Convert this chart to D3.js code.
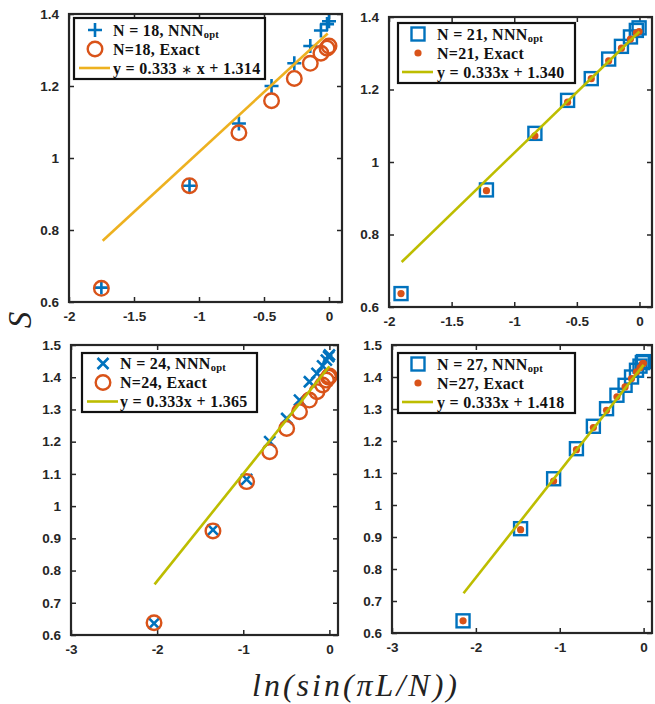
<!DOCTYPE html>
<html>
<head>
  <meta charset="utf-8">
  <!-- Import D3.js -->
  <script type="text/javascript" src="https://d3js.org/d3.v7.min.js"></script>
</head>
<body>
<style type="text/css">
  html,
  body {
    margin: 0px;
    background: #fff;
    overflow: hidden;
  }

  .tick text {
    font-family: "Liberation Sans", Arial, sans-serif;
    font-weight: bold;
    font-size: 13.5px;
    fill: #262626;
  }

  .tick line {
    stroke: #262626;
    stroke-width: 1.5;
  }

  .legend-text {
    font-family: "Liberation Serif", "Times New Roman", serif;
    font-weight: bold;
    font-size: 16px;
    letter-spacing: 0.3px;
    fill: #111;
  }
</style>

<script>
"use strict";

// ln(sin(pi L / N)) positions
const X_18 = [-1.751, -1.073, -0.693, -0.442, -0.267, -0.144, -0.062, -0.015, 0];
const X_21 = [-1.904, -1.222, -0.835, -0.574, -0.385, -0.246, -0.144, -0.072, -0.025, -0.003];
const X_24 = [-2.036, -1.352, -0.961, -0.693, -0.496, -0.347, -0.232, -0.144, -0.079, -0.035, -0.009, 0];
const X_27 = [-2.153, -1.467, -1.073, -0.801, -0.599, -0.442, -0.318, -0.221, -0.144, -0.085, -0.043, -0.015, -0.002];

// S values, NNN_opt and exact
const NNN_18 = [0.640, 0.923, 1.096, 1.200, 1.263, 1.311, 1.354, 1.372, 1.380];
const EXACT_18 = [0.638, 0.923, 1.070, 1.159, 1.221, 1.263, 1.291, 1.305, 1.311];
const NNN_21 = [0.637, 0.923, 1.079, 1.170, 1.230, 1.284, 1.319, 1.345, 1.363, 1.370];
const EXACT_21 = [0.637, 0.921, 1.072, 1.165, 1.230, 1.279, 1.314, 1.339, 1.356, 1.360];
const NNN_24 = [0.636, 0.926, 1.083, 1.200, 1.272, 1.329, 1.386, 1.412, 1.435, 1.453, 1.464, 1.469];
const EXACT_24 = [0.638, 0.923, 1.076, 1.169, 1.241, 1.293, 1.329, 1.355, 1.376, 1.391, 1.400, 1.404];
const NNN_27 = [0.638, 0.926, 1.082, 1.176, 1.246, 1.301, 1.343, 1.374, 1.400, 1.421, 1.434, 1.445, 1.448];
const EXACT_27 = [0.638, 0.923, 1.075, 1.173, 1.242, 1.296, 1.338, 1.369, 1.395, 1.416, 1.429, 1.441, 1.443];

// fitted line end points [x0, x1], [y0, y1]
const FIT_X_18 = [-1.741, -0.01];
const FIT_Y_18 = [0.770, 1.346];
const FIT_X_21 = [-1.899, 0];
const FIT_Y_21 = [0.724, 1.360];
const FIT_X_24 = [-2.03, 0];
const FIT_Y_24 = [0.757, 1.434];
const FIT_X_27 = [-2.147, 0];
const FIT_Y_27 = [0.724, 1.438];

// tick labels
const X_TICKS_TOP = [-2, -1.5, -1, -0.5, 0];
const Y_TICKS_TOP = [0.6, 0.8, 1, 1.2, 1.4];
const X_TICKS_BOTTOM = [-3, -2, -1, 0];
const Y_TICKS_BOTTOM = [0.6, 0.7, 0.8, 0.9, 1, 1.1, 1.2, 1.3, 1.4, 1.5];

// legend labels: [main, subscript] or [before, operator, after]
const LABELS_18 = [["N = 18, NNN", "opt"], ["N=18, Exact"], ["y = 0.333 ", "\u2217", " x + 1.314"]];
const LABELS_21 = [["N = 21, NNN", "opt"], ["N=21, Exact"], ["y = 0.333x + 1.340"]];
const LABELS_24 = [["N = 24, NNN", "opt"], ["N=24, Exact"], ["y = 0.333x + 1.365"]];
const LABELS_27 = [["N = 27, NNN", "opt"], ["N=27, Exact"], ["y = 0.333x + 1.418"]];

document.addEventListener("DOMContentLoaded", function() {
  const WIDTH = 655;
  const HEIGHT = 704;
  const BLUE = "#0072BD";
  const ORANGE = "#D95319";
  const AXIS_COLOR = "#262626";

  // Panel layout (pixel boxes) and styles
  const PANELS = [
    { left: 69, right: 342, top: 14, bottom: 302, xDomain: [-2, 0.1], yDomain: [0.6, 1.4],
      xTicks: X_TICKS_TOP, yTicks: Y_TICKS_TOP, x: X_18, nnn: NNN_18, exact: EXACT_18,
      fitX: FIT_X_18, fitY: FIT_Y_18, labels: LABELS_18, nnnMark: "plus", exactMark: "circle",
      lineColor: "#EDB120", legend: { x: 74, y: 18, w: 191, h: 61, rows: [30, 49, 68], mx: 95, tx: 113 } },
    { left: 389, right: 652, top: 17, bottom: 307, xDomain: [-2, 0.1], yDomain: [0.6, 1.4],
      xTicks: X_TICKS_TOP, yTicks: Y_TICKS_TOP, x: X_21, nnn: NNN_21, exact: EXACT_21,
      fitX: FIT_X_21, fitY: FIT_Y_21, labels: LABELS_21, nnnMark: "square", exactMark: "dot",
      lineColor: "#BDBD00", legend: { x: 398, y: 23, w: 177, h: 60, rows: [34, 53, 72], mx: 418, tx: 437 } },
    { left: 71, right: 338, top: 345, bottom: 635, xDomain: [-3, 0.1], yDomain: [0.6, 1.5],
      xTicks: X_TICKS_BOTTOM, yTicks: Y_TICKS_BOTTOM, x: X_24, nnn: NNN_24, exact: EXACT_24,
      fitX: FIT_X_24, fitY: FIT_Y_24, labels: LABELS_24, nnnMark: "cross", exactMark: "circle",
      lineColor: "#BDBD00", legend: { x: 82, y: 353, w: 175, h: 59, rows: [363.5, 382.5, 401.5], mx: 103, tx: 120 } },
    { left: 392, right: 652, top: 345, bottom: 633, xDomain: [-3, 0.1], yDomain: [0.6, 1.5],
      xTicks: X_TICKS_BOTTOM, yTicks: Y_TICKS_BOTTOM, x: X_27, nnn: NNN_27, exact: EXACT_27,
      fitX: FIT_X_27, fitY: FIT_Y_27, labels: LABELS_27, nnnMark: "square", exactMark: "dot",
      lineColor: "#BDBD00", legend: { x: 398, y: 353, w: 177, h: 60, rows: [364, 383, 402], mx: 418, tx: 437 } }
  ];

  const fmt = function(d) { return String(+d.toFixed(2)); };

  const SVG = d3.select("body")
    .append("svg")
    .attr("width", WIDTH)
    .attr("height", HEIGHT);

  // draw one marker of a given kind into selection g at (cx, cy)
  function drawMarker(g, kind, cx, cy) {
    if (kind === "plus") {
      g.append("path")
        .attr("d", "M" + (cx - 7) + "," + cy + "H" + (cx + 7) + "M" + cx + "," + (cy - 7) + "V" + (cy + 7))
        .attr("stroke", BLUE).attr("stroke-width", 2.6).attr("fill", "none");
    } else if (kind === "cross") {
      g.append("path")
        .attr("d", "M" + (cx - 5.5) + "," + (cy - 5.5) + "L" + (cx + 5.5) + "," + (cy + 5.5) +
          "M" + (cx - 5.5) + "," + (cy + 5.5) + "L" + (cx + 5.5) + "," + (cy - 5.5))
        .attr("stroke", BLUE).attr("stroke-width", 2.6).attr("fill", "none");
    } else if (kind === "square") {
      g.append("rect")
        .attr("x", cx - 6.5).attr("y", cy - 6.5).attr("width", 13).attr("height", 13)
        .attr("stroke", BLUE).attr("stroke-width", 2.4).attr("fill", "none");
    } else if (kind === "circle") {
      g.append("circle")
        .attr("cx", cx).attr("cy", cy).attr("r", 7.3)
        .attr("stroke", ORANGE).attr("stroke-width", 2.4).attr("fill", "none");
    } else if (kind === "dot") {
      g.append("circle")
        .attr("cx", cx).attr("cy", cy).attr("r", 3.6)
        .attr("fill", ORANGE);
    }
  }

  PANELS.forEach(function(p) {
    const X_SCALE = d3.scaleLinear().domain(p.xDomain).range([p.left, p.right]);
    const Y_SCALE = d3.scaleLinear().domain(p.yDomain).range([p.bottom, p.top]);
    const G = SVG.append("g");

    // axes with inward ticks on all four sides
    G.append("g")
      .attr("transform", "translate(0," + p.bottom + ")")
      .call(d3.axisBottom(X_SCALE).tickValues(p.xTicks).tickFormat(fmt).tickSizeInner(-5).tickSizeOuter(0).tickPadding(9));
    G.append("g")
      .attr("transform", "translate(0," + p.top + ")")
      .call(d3.axisTop(X_SCALE).tickValues(p.xTicks).tickFormat("").tickSizeInner(-5).tickSizeOuter(0));
    G.append("g")
      .attr("transform", "translate(" + p.left + ",0)")
      .call(d3.axisLeft(Y_SCALE).tickValues(p.yTicks).tickFormat(fmt).tickSizeInner(-5).tickSizeOuter(0).tickPadding(10));
    G.append("g")
      .attr("transform", "translate(" + p.right + ",0)")
      .call(d3.axisRight(Y_SCALE).tickValues(p.yTicks).tickFormat("").tickSizeInner(-5).tickSizeOuter(0));
    G.selectAll(".domain").remove();

    // data markers
    const gNnn = G.append("g");
    p.x.forEach(function(xv, i) {
      drawMarker(gNnn, p.nnnMark, X_SCALE(xv), Y_SCALE(p.nnn[i]));
    });
    const gExact = G.append("g");
    p.x.forEach(function(xv, i) {
      drawMarker(gExact, p.exactMark, X_SCALE(xv), Y_SCALE(p.exact[i]));
    });

    // fitted line
    G.append("path")
      .datum(d3.zip(p.fitX, p.fitY))
      .attr("d", d3.line().x(function(d) { return X_SCALE(d[0]); }).y(function(d) { return Y_SCALE(d[1]); }))
      .attr("stroke", p.lineColor)
      .attr("stroke-width", 2.6)
      .attr("fill", "none");

    // axes box
    G.append("rect")
      .attr("x", p.left).attr("y", p.top)
      .attr("width", p.right - p.left).attr("height", p.bottom - p.top)
      .attr("fill", "none").attr("stroke", AXIS_COLOR).attr("stroke-width", 2.2);

    // legend
    const L = p.legend;
    const gL = G.append("g");
    gL.append("rect")
      .attr("x", L.x).attr("y", L.y).attr("width", L.w).attr("height", L.h)
      .attr("fill", "#fff").attr("stroke", "#111").attr("stroke-width", 2.2);
    drawMarker(gL, p.nnnMark, L.mx, L.rows[0]);
    drawMarker(gL, p.exactMark, L.mx, L.rows[1]);
    gL.append("line")
      .attr("x1", L.mx - 16).attr("x2", L.mx + 15)
      .attr("y1", L.rows[2]).attr("y2", L.rows[2])
      .attr("stroke", p.lineColor).attr("stroke-width", 2.6);
    p.labels.forEach(function(lab, i) {
      const t = gL.append("text")
        .classed("legend-text", true)
        .attr("x", L.tx)
        .attr("y", L.rows[i] + 5.5)
        .attr("xml:space", "preserve")
        .text(lab[0]);
      if (lab.length === 2) {
        t.append("tspan")
          .attr("dy", 2)
          .attr("font-size", "10.5px")
          .text(lab[1]);
      } else if (lab.length === 3) {
        t.append("tspan")
          .attr("font-weight", "normal")
          .attr("font-size", "13px")
          .attr("font-family", "'DejaVu Sans', sans-serif")
          .text(lab[1]);
        t.append("tspan").text(lab[2]);
      }
    });
  });

  // axis titles
  SVG.append("text")
    .attr("x", 356)
    .attr("y", 696)
    .attr("text-anchor", "middle")
    .style("font-family", "'Liberation Serif', 'Times New Roman', serif")
    .style("font-style", "italic")
    .style("font-size", "32px")
    .style("letter-spacing", "3px")
    .style("fill", "#222")
    .text("ln(sin(\u03c0L/N))");

  SVG.append("text")
    .attr("transform", "translate(31,320) rotate(-90)")
    .attr("text-anchor", "middle")
    .style("font-family", "'Liberation Serif', 'Times New Roman', serif")
    .style("font-style", "italic")
    .style("font-size", "33px")
    .style("fill", "#222")
    .text("S");
});
</script>
</body>
</html>
